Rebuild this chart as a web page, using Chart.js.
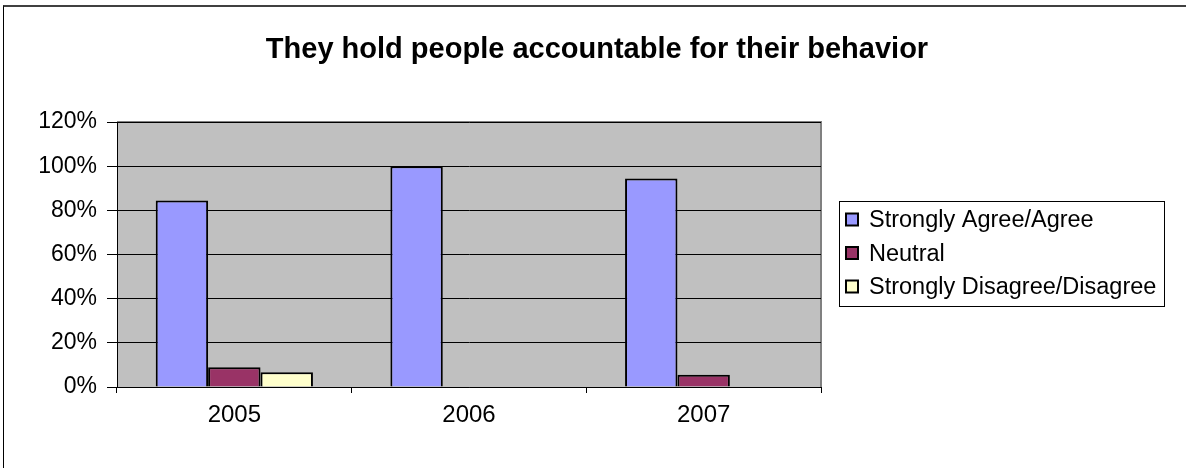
<!DOCTYPE html>
<html>
<head>
<meta charset="utf-8">
<script src="https://cdn.jsdelivr.net/npm/chart.js@4.4.1/dist/chart.umd.min.js"></script>
<style>
  html, body { margin: 0; padding: 0; background: #ffffff; }
  #wrap { position: relative; width: 1186px; height: 468px; }
  #frame { position: absolute; left: 3px; top: 5px; width: 1183px; height: 463px;
           border-left: 1px solid #000; border-top: 2px solid #404040; box-sizing: border-box; pointer-events: none; }
  canvas { position: absolute; left: 0; top: 0; }
</style>
</head>
<body>
<div id="wrap">
  <canvas id="chart" width="1186" height="468"></canvas>
  <div id="frame"></div>
</div>
<script>
const titleText = 'They hold people accountable for their behavior';
const years = ['2005', '2006', '2007'];
const seriesNames = ['Strongly Agree/Agree', 'Neutral', 'Strongly Disagree/Disagree'];
const agreeValues = [84.4, 100, 94.4];
const neutralValues = [8.9, 0, 5.6];
const disagreeValues = [6.7, 0, 0];
const seriesColors = ['#9999FF', '#993366', '#FFFFCC'];
const yTicks = [0, 20, 40, 60, 80, 100, 120];

const FONT = '"Liberation Sans", Arial, sans-serif';

// grey plot background and its outline
const plotBackground = {
  id: 'plotBackground',
  beforeDraw(chart) {
    const { ctx, chartArea: a } = chart;
    ctx.save();
    ctx.fillStyle = '#C0C0C0';
    ctx.fillRect(a.left, a.top, a.right - a.left, a.bottom - a.top);
    ctx.strokeStyle = '#808080';
    ctx.lineWidth = 2;
    ctx.beginPath();
    ctx.moveTo(a.left, a.top);
    ctx.lineTo(a.right, a.top);
    ctx.lineTo(a.right, a.bottom);
    ctx.stroke();
    ctx.restore();
  }
};

// boxed legend to the right of the plot
const boxedLegend = {
  id: 'boxedLegend',
  afterDraw(chart) {
    const { ctx } = chart;
    const bx = 839.5, by = 201.5, bw = 325, bh = 105;
    ctx.save();
    ctx.fillStyle = '#ffffff';
    ctx.fillRect(bx, by, bw, bh);
    ctx.strokeStyle = '#000';
    ctx.lineWidth = 1;
    ctx.strokeRect(bx, by, bw, bh);
    ctx.font = '23.5px ' + FONT;
    ctx.textBaseline = 'middle';
    chart.data.datasets.forEach((ds, i) => {
      const cy = 220 + i * 33.5;
      ctx.fillStyle = ds.backgroundColor;
      ctx.fillRect(846, cy - 6.5, 12, 12);
      ctx.lineWidth = 2;
      ctx.strokeStyle = '#000';
      ctx.strokeRect(846, cy - 6.5, 12, 12);
      ctx.fillStyle = '#000';
      ctx.fillText(ds.label, 869, cy + 1);
    });
    ctx.restore();
  }
};

const makeSet = (i, values) => ({
  label: seriesNames[i],
  data: values,
  backgroundColor: seriesColors[i],
  borderColor: '#000',
  borderWidth: 2,
  borderSkipped: 'start',
  categoryPercentage: 0.67,
  barPercentage: 1.0
});

new Chart(document.getElementById('chart'), {
  type: 'bar',
  data: {
    labels: years,
    datasets: [makeSet(0, agreeValues), makeSet(1, neutralValues), makeSet(2, disagreeValues)]
  },
  options: {
    responsive: false,
    animation: false,
    devicePixelRatio: 1,
    layout: { padding: { left: 8, right: 0, top: 20, bottom: 30 } },
    plugins: {
      legend: { display: false },
      tooltip: { enabled: false },
      title: {
        display: true,
        text: titleText,
        color: '#000',
        font: { family: FONT, size: 29, weight: 'bold' },
        padding: { top: 13, bottom: 54.2 }
      }
    },
    scales: {
      x: {
        offset: true,
        grid: { offset: true, drawOnChartArea: false, drawTicks: true, tickLength: 6, color: '#000' },
        border: { display: true, color: '#000', width: 1 },
        ticks: { color: '#000', font: { family: FONT, size: 24 }, padding: 8 },
        afterFit(scale) { scale.height = 51; }
      },
      y: {
        min: 0,
        max: 120,
        afterBuildTicks(scale) { scale.ticks = yTicks.map(v => ({ value: v })); },
        grid: { color: '#000', lineWidth: 1, tickLength: 10, drawTicks: true },
        border: { display: true, color: '#000', width: 1 },
        ticks: { color: '#000', font: { family: FONT, size: 23 }, padding: 10,
                 callback: v => v + '%' },
        afterFit(scale) { scale.width = 109; }
      },
      // empty right-hand band that holds the legend
      legendBand: {
        type: 'linear',
        position: 'right',
        grid: { display: false },
        border: { display: false },
        ticks: { display: false },
        afterFit(scale) { scale.width = 365; }
      }
    }
  },
  plugins: [plotBackground, boxedLegend]
});
</script>
</body>
</html>
